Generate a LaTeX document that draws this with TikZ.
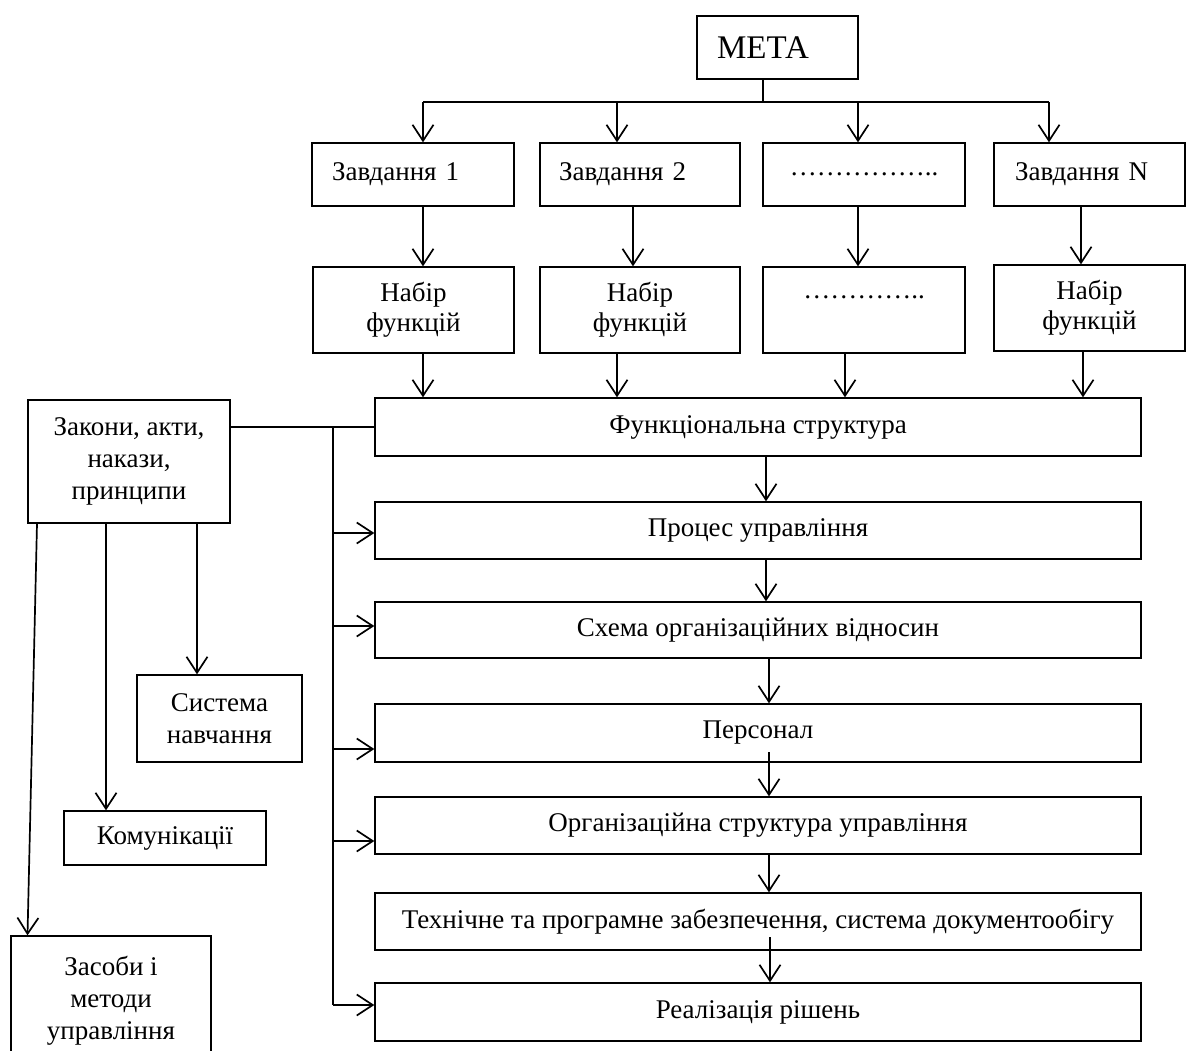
\documentclass[tikz,border=0pt]{standalone}
\usepackage{fontspec}
\setmainfont{Liberation Serif}
\usetikzlibrary{arrows.meta}
\begin{document}
\begin{tikzpicture}[x=1pt,y=-1pt,
  box/.style={draw, line width=1.4pt, inner sep=0pt, font=\fontsize{27}{30}\selectfont, align=center},
  lbox/.style={box, font=\fontsize{27}{32}\selectfont},
  arr/.style={line width=1.7pt, -{Straight Barb[length=16pt,width=21pt]}},
  ln/.style={line width=1.7pt}]
\useasboundingbox (0,0) rectangle (1186,1050);

% top
\node[box, font=\fontsize{33}{37}\selectfont, text width=121pt, inner xsep=20pt, align=left, minimum height=63pt] (meta) at (777.5,47.5) {МЕТА};

\node[box, text width=162pt, inner xsep=20pt, align=left, minimum height=63pt] (z1) at (413,174.5) {Завдання 1};
\node[box, text width=162pt, inner xsep=19pt, align=left, minimum height=63pt] (z2) at (640,174.5) {Завдання 2};
\node[box, minimum width=202pt, minimum height=63pt] (z3) at (864,174.5) {……………..};
\node[box, text width=149pt, inner xsep=21pt, align=left, minimum height=63pt] (z4) at (1089.5,174.5) {Завдання N};

\node[box, minimum width=201pt, minimum height=86pt] (n1) at (413.5,310) {Набір\\функцій};
\node[box, minimum width=200pt, minimum height=86pt] (n2) at (640,310) {Набір\\функцій};
\node[box, minimum width=202pt, minimum height=86pt] (n3) at (864,310) {\raisebox{12pt}[0pt][0pt]{…………..}};
\node[box, minimum width=191pt, minimum height=86pt] (n4) at (1089.5,308) {Набір\\функцій};

% central column
\node[box, minimum width=766pt, minimum height=58pt] (func) at (758,427) {Функціональна структура};
\node[box, minimum width=766pt, minimum height=57pt] (proc) at (758,530.5) {Процес управління};
\node[box, minimum width=766pt, minimum height=56pt] (sch) at (758,630) {Схема організаційних відносин};
\node[box, minimum width=766pt, minimum height=58pt] (pers) at (758,733) {Персонал};
\node[box, minimum width=766pt, minimum height=57pt] (org) at (758,825.5) {Організаційна структура управління};
\node[box, minimum width=766pt, minimum height=57pt] (tech) at (758,921.5) {Технічне та програмне забезпечення, система документообігу};
\node[box, minimum width=766pt, minimum height=58pt] (real) at (758,1012) {Реалізація рішень};

% left column
\node[lbox, minimum width=202pt, minimum height=123pt] (zak) at (129,461.5) {Закони, акти,\\накази,\\принципи};
\node[lbox, minimum width=165pt, minimum height=87pt] (sys) at (219.5,718.5) {Система\\навчання};
\node[lbox, minimum width=202pt, minimum height=54pt] (kom) at (165,838) {Комунікації};
\node[lbox, minimum width=200pt, minimum height=124pt, text depth=0pt] (zas) at (111,998) {Засоби і\\методи\\управління};

% meta bus
\coordinate (bus1) at (423,102);
\coordinate (bus2) at (617,102);
\coordinate (bus3) at (858,102);
\coordinate (bus4) at (1049,102);
\draw[ln] (meta.south -| 763,0) -- (763,102);
\draw[ln] (bus1) -- (bus4);
\draw[arr] (bus1) -- (bus1 |- z1.north);
\draw[arr] (bus2) -- (bus2 |- z2.north);
\draw[arr] (bus3) -- (bus3 |- z3.north);
\draw[arr] (bus4) -- (bus4 |- z4.north);

% tasks to sets
\coordinate (m1) at (423,206);
\coordinate (m2) at (633,206);
\coordinate (m3) at (858,206);
\coordinate (m4) at (1081,206);
\draw[arr] (m1) -- (m1 |- n1.north);
\draw[arr] (m2) -- (m2 |- n2.north);
\draw[arr] (m3) -- (m3 |- n3.north);
\draw[arr] (m4) -- (m4 |- n4.north);

% sets to functional structure
\coordinate (l1) at (423,0);
\coordinate (l2) at (617,0);
\coordinate (l3) at (845,0);
\coordinate (l4) at (1083,0);
\draw[arr] (l1 |- n1.south) -- (l1 |- func.north);
\draw[arr] (l2 |- n2.south) -- (l2 |- func.north);
\draw[arr] (l3 |- n3.south) -- (l3 |- func.north);
\draw[arr] (l4 |- n4.south) -- (l4 |- func.north);

% central chain
\coordinate (c1) at (766,0);
\coordinate (c2) at (769,0);
\draw[arr] (c1 |- func.south) -- (c1 |- proc.north);
\draw[arr] (c1 |- proc.south) -- (c1 |- sch.north);
\draw[arr] (c2 |- sch.south) -- (c2 |- pers.north);
\draw[arr] (769,752) -- (c2 |- org.north);
\draw[arr] (c2 |- org.south) -- (c2 |- tech.north);
\draw[arr] (770,937) -- (770,0 |- real.north);

% left bus
\coordinate (bt) at (333,427);
\coordinate (bb) at (333,1005);
\draw[ln] (zak.east |- func.west) -- (func.west);
\draw[ln] (bt) -- (bb);
\coordinate (a1) at (333,533);
\coordinate (a2) at (333,626);
\coordinate (a3) at (333,749);
\coordinate (a4) at (333,841);
\draw[arr] (a1) -- (a1 -| proc.west);
\draw[arr] (a2) -- (a2 -| sch.west);
\draw[arr] (a3) -- (a3 -| pers.west);
\draw[arr] (a4) -- (a4 -| org.west);
\draw[arr] (bb) -- (bb -| real.west);

% left arrows
\draw[arr] (37,0 |- zak.south) -- (27.5,0 |- zas.north);
\draw[arr] (106,0 |- zak.south) -- (106,0 |- kom.north);
\draw[arr] (197,0 |- zak.south) -- (197,0 |- sys.north);
\end{tikzpicture}
\end{document}
